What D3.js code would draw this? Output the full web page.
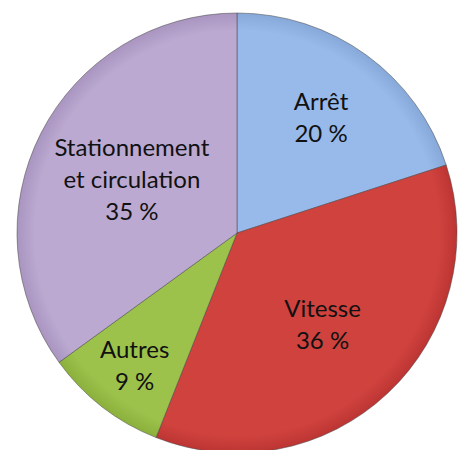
<!DOCTYPE html>
<html><head><meta charset="utf-8">
<script src="https://cdn.jsdelivr.net/npm/d3@7"></script>
<style>body{margin:0;background:#fff}</style>
</head><body>
<svg id="c" width="461" height="450"></svg>
<script>
const categories = ["Arrêt", "Vitesse", "Autres", "Stationnement et circulation"];
const values = [20, 36, 9, 35];
const labelLines = [["Arrêt"], ["Vitesse"], ["Autres"], ["Stationnement", "et circulation"]];
const colors = ["#97BAEB", "#D0423E", "#9DC24C", "#BBA9D1"];
const edgeColors = ["#86A9DA", "#BC3533", "#8BB03B", "#A995C0"];

const svg = d3.select("#c");
const cx = 237, cy = 233, R = 220;
const defs = svg.append("defs");
const g = svg.append("g").attr("transform", `translate(${cx},${cy})`);
colors.forEach((c, i) => {
  const gr = defs.append("radialGradient").attr("id", "g" + i)
    .attr("gradientUnits", "userSpaceOnUse").attr("cx", 0).attr("cy", 0).attr("r", R);
  gr.append("stop").attr("offset", "0%").attr("stop-color", c);
  gr.append("stop").attr("offset", "92%").attr("stop-color", c);
  gr.append("stop").attr("offset", "100%").attr("stop-color", edgeColors[i]);
});
const pie = d3.pie().sort(null).value(d => d)(values);
const arc = d3.arc().innerRadius(0).outerRadius(R);
g.selectAll("path.s").data(pie).join("path").attr("class", "s")
  .attr("d", arc)
  .attr("fill", (d, i) => `url(#g${i})`)
  .attr("stroke", "#444").attr("stroke-opacity", 0.5).attr("stroke-width", 1);

const labelR = [143, 125, 167, 118];
const fs = 24, lh = 32;
pie.forEach((d, i) => {
  const a = (d.startAngle + d.endAngle) / 2;
  const x = Math.sin(a) * labelR[i], y = -Math.cos(a) * labelR[i];
  const lines = labelLines[i].concat([values[i] + " %"]);
  const t = g.append("text").attr("text-anchor", "middle")
    .attr("font-family", "Lato, 'Open Sans', sans-serif").attr("font-size", fs).attr("fill", "#111");
  lines.forEach((l, k) => {
    t.append("tspan").attr("x", x).attr("y", y + (k - (lines.length - 1) / 2) * lh + fs * 0.36).text(l);
  });
});
</script>
</body></html>
